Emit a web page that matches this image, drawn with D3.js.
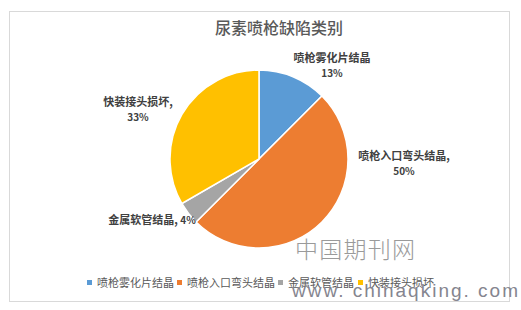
<!DOCTYPE html>
<html>
<head>
<meta charset="utf-8">
<script src="https://cdn.jsdelivr.net/npm/d3@7"></script>
<style>
	body { margin: 0; background: #fff; }
	svg { display: block; font-family: "Noto Sans CJK SC", "Microsoft YaHei", sans-serif; }
</style>
</head>
<body>
<div id="chart"></div>
<script>
/* global d3 */

// 尿素喷枪缺陷类别 - counts per category
var categories = ['喷枪雾化片结晶', '喷枪入口弯头结晶', '金属软管结晶', '快装接头损坏'];
var counts = [3, 12, 1, 8];
var colors = ['#5B9BD5', '#ED7D31', '#A5A5A5', '#FFC000'];
var labelSuffix = ['', ',', ',', ','];

(function() {

	var width = 521,
		height = 310,
		cx = 259,
		cy = 159,
		radius = 89;

	var svg = d3.select('#chart').append('svg')
		.attr('width', width)
		.attr('height', height);

	// chart frame
	svg.append('rect')
		.attr('x', 9.5).attr('y', 11.5)
		.attr('width', 500).attr('height', 290)
		.attr('fill', '#fff')
		.attr('stroke', '#d9d9d9');

	svg.append('text')
		.attr('x', 279).attr('y', 34)
		.attr('text-anchor', 'middle')
		.attr('font-size', 16)
		.attr('font-weight', 500)
		.attr('fill', '#595959')
		.text('尿素喷枪缺陷类别');

	var data = categories.map(function(c, i) {
		return { name: c, value: counts[i], color: colors[i], suffix: labelSuffix[i] };
	});
	var total = d3.sum(counts);

	var pie = d3.pie().sort(null).value(function(d) { return d.value; });
	var arc = d3.arc().innerRadius(0).outerRadius(radius);
	var arcs = pie(data);

	var gPie = svg.append('g').attr('transform', 'translate(' + cx + ',' + cy + ')');
	gPie.selectAll('path')
		.data(arcs)
		.enter().append('path')
		.attr('d', arc)
		.attr('fill', function(d) { return d.data.color; })
		.attr('stroke', '#fff')
		.attr('stroke-width', 1.5);

	// label anchors, placed just outside each slice like Excel's best fit
	var labelPos = [
		{ x: 332, y: 62, twoLine: true },
		{ x: 404, y: 160, twoLine: true },
		{ x: 152, y: 224, twoLine: false },
		{ x: 138, y: 106, twoLine: true }
	];

	var gLabels = svg.append('g').attr('fill', '#404040').attr('font-weight', 'bold');
	arcs.forEach(function(d, i) {
		var p = labelPos[i],
			pct = d3.format('.0%')(d.data.value / total);
		if (p.twoLine) {
			gLabels.append('text')
				.attr('x', p.x).attr('y', p.y)
				.attr('text-anchor', 'middle')
				.attr('font-size', 11)
				.text(d.data.name + d.data.suffix);
			gLabels.append('text')
				.attr('x', p.x).attr('y', p.y + 15)
				.attr('text-anchor', 'middle')
				.attr('font-size', 10)
				.text(pct);
		} else {
			var t = gLabels.append('text')
				.attr('x', p.x).attr('y', p.y)
				.attr('text-anchor', 'middle')
				.attr('font-size', 11);
			t.append('tspan').text(d.data.name + d.data.suffix + ' ');
			t.append('tspan').attr('font-size', 10).text(pct);
		}
	});

	// legend
	var legendX = [87, 177, 278, 358];
	var gLegend = svg.append('g');
	data.forEach(function(d, i) {
		gLegend.append('rect')
			.attr('x', legendX[i]).attr('y', 280)
			.attr('width', 5).attr('height', 5)
			.attr('fill', d.color);
		gLegend.append('text')
			.attr('x', legendX[i] + 10).attr('y', 287)
			.attr('font-size', 11)
			.attr('fill', '#595959')
			.text(d.name);
	});

	// watermarks
	svg.append('text')
		.attr('x', 295).attr('y', 258)
		.attr('font-size', 23)
		.attr('font-weight', 200)
		.attr('fill', '#9a9a9a')
		.attr('textLength', 120)
		.text('中国期刊网');
	svg.append('text')
		.attr('x', 292).attr('y', 297)
		.attr('font-family', 'Liberation Sans, Arial, sans-serif')
		.attr('font-size', 19)
		.attr('fill', '#85858f')
		.attr('textLength', 226)
		.text('www. chinaqking. com');

})();
</script>
</body>
</html>
